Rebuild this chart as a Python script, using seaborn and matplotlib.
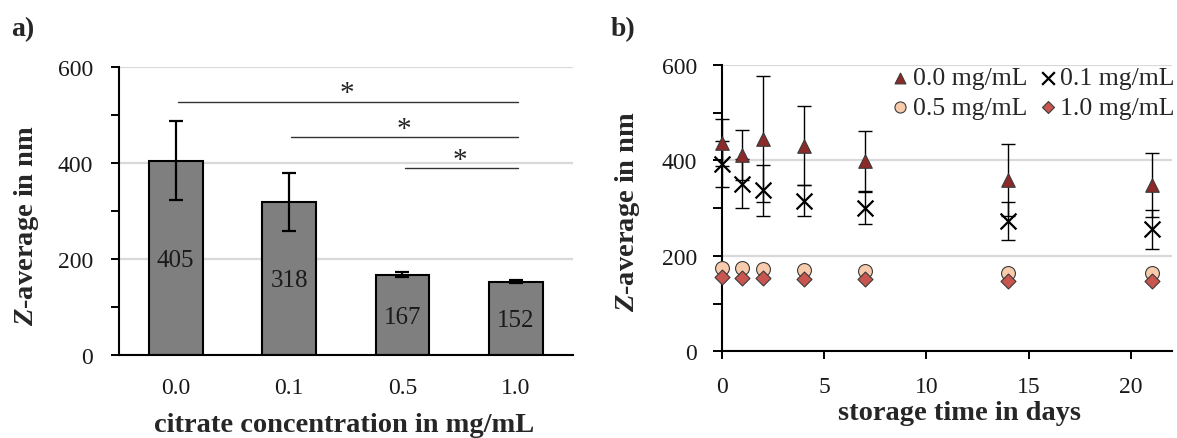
import matplotlib
matplotlib.use("Agg")
import matplotlib.pyplot as plt
import seaborn as sns
import pandas as pd

# ---- panel a: Z-average vs citrate concentration ----
conc_labels = ["0.0", "0.1", "0.5", "1.0"]
z_mean = [405, 318, 167, 152]
z_err = [82, 60, 5, 3]

# significance brackets: start bar, end bar, bracket height
sig_start = [0, 1, 2]
sig_end = [3, 3, 3]
sig_height = [528, 453, 389]

# ---- panel b: Z-average over storage time ----
days = [0, 1, 2, 4, 7, 14, 21]
z_00 = [437, 412, 445, 431, 398, 359, 348]
e_00 = [49, 52, 132, 83, 63, 75, 67]
z_01 = [392, 351, 337, 316, 300, 273, 256]
e_01 = [48, 51, 53, 33, 34, 40, 41]
z_05 = [175, 174, 173, 170, 169, 164, 164]
z_10 = [156, 154, 153, 151, 151, 148, 147]

sns.set_style("ticks")
plt.rcParams["font.family"] = ["Liberation Serif", "DejaVu Serif"]
plt.rcParams["mathtext.fontset"] = "custom"
plt.rcParams["mathtext.it"] = "Liberation Serif:italic:bold"
plt.rcParams["mathtext.rm"] = "Liberation Serif:bold"

TICK_FS = 17
LABEL_FS = 20.5
LEGEND_FS = 18.5
EDGE = "#3a3a3a"
GRID = "#d9d9d9"
W, H = 1177, 439

fig = plt.figure(figsize=(W / 100, H / 100), dpi=100)
ax_a = fig.add_axes([119 / W, 1 - 355.7 / H, (572.5 - 119) / W, (355.7 - 68) / H])
ax_b = fig.add_axes([721.7 / W, 1 - 352.3 / H, (1172 - 721.7) / W, (352.3 - 66) / H])


def style_axis(ax, tick_len, pad):
    for s in ("top", "right"):
        ax.spines[s].set_visible(False)
    for s in ("left", "bottom"):
        ax.spines[s].set_linewidth(1.5)
        ax.spines[s].set_color("black")
    ax.set_ylim(0, 600)
    ax.set_yticks([0, 200, 400, 600])
    ax.set_yticks([100, 300, 500], minor=True)
    ax.yaxis.grid(True, which="major", color=GRID, linewidth=1.6, zorder=0)
    ax.set_axisbelow(True)
    ax.tick_params(axis="y", which="both", direction="out", length=tick_len,
                   width=1.4, color="black", labelsize=TICK_FS, pad=pad,
                   labelcolor="#1a1a1a")


# ---------------- panel a ----------------
df_a = pd.DataFrame({"conc": conc_labels, "z": z_mean})
sns.barplot(data=df_a, x="conc", y="z", color="#7f7f7f", saturation=1,
            edgecolor="black", linewidth=1.5, width=0.475, errorbar=None,
            ax=ax_a, zorder=2)
ax_a.errorbar(range(len(z_mean)), z_mean, yerr=z_err, fmt="none",
              ecolor="black", elinewidth=1.6, capsize=4.7, capthick=1.6,
              zorder=3)
for i, v in enumerate(z_mean):
    ax_a.text(i, v / 2 - 4, str(v), ha="center", va="center",
              fontsize=18, color="#1a1a1a", zorder=4)
for s0, s1, h in zip(sig_start, sig_end, sig_height):
    ax_a.plot([s0 + 0.02, s1 + 0.02], [h, h], color="#333333",
              linewidth=1.0, zorder=3)
    ax_a.text((s0 + s1) / 2 + 0.01, h + 3, "*", ha="center", va="baseline",
              fontsize=21, color="#222222")
style_axis(ax_a, tick_len=5.8, pad=12.7)
ax_a.set_xlim(-0.5, 3.5)
ax_a.tick_params(axis="x", length=0, labelsize=TICK_FS, pad=16,
                 labelcolor="#1a1a1a")
ax_a.set_xlabel("citrate concentration in mg/mL", fontsize=LABEL_FS,
                fontweight="bold")
ax_a.set_ylabel(r"$Z$-average in nm", fontsize=LABEL_FS, fontweight="bold")
ax_a.xaxis.set_label_coords((344 - 119) / (572.5 - 119), -(432 - 355.7) / 287.7)
ax_a.xaxis.label.set_verticalalignment("baseline")
ax_a.yaxis.set_label_coords(-(119 - 26) / (572.5 - 119), (355.7 - 225) / 287.7)
ax_a.yaxis.label.set_verticalalignment("center")

# ---------------- panel b ----------------
ax_b.errorbar(days, z_00, yerr=e_00, fmt="none", ecolor="black",
              elinewidth=1.0, capsize=4.7, capthick=1.0, zorder=2,
              clip_on=False)
ax_b.errorbar(days, z_01, yerr=e_01, fmt="none", ecolor="black",
              elinewidth=1.0, capsize=4.7, capthick=1.0, zorder=2,
              clip_on=False)
sns.scatterplot(x=days, y=z_00, marker="^", s=95, color="#8c2a2a",
                edgecolor=EDGE, linewidth=0.8, label="0.0 mg/mL",
                ax=ax_b, zorder=4, clip_on=False)
sns.scatterplot(x=days, y=z_01, marker="x", s=130, color="black",
                linewidth=1.6, label="0.1 mg/mL", ax=ax_b, zorder=4,
                clip_on=False)
sns.scatterplot(x=days, y=z_05, marker="o", s=100, color="#f8cbad",
                edgecolor=EDGE, linewidth=0.8, label="0.5 mg/mL",
                ax=ax_b, zorder=4, clip_on=False)
sns.scatterplot(x=days, y=z_10, marker="D", s=58, color="#c8554f",
                edgecolor=EDGE, linewidth=0.8, label="1.0 mg/mL",
                ax=ax_b, zorder=5, clip_on=False)
style_axis(ax_b, tick_len=6.5, pad=11.4)
ax_b.set_xlim(0, 22)
ax_b.set_xticks([0, 5, 10, 15, 20])
ax_b.tick_params(axis="x", direction="out", length=5.8, width=1.4,
                 color="black", labelsize=TICK_FS, pad=12,
                 labelcolor="#1a1a1a")
ax_b.set_xlabel("storage time in days", fontsize=LABEL_FS, fontweight="bold")
ax_b.set_ylabel(r"$Z$-average in nm", fontsize=LABEL_FS, fontweight="bold")
ax_b.xaxis.set_label_coords((959 - 721.7) / (1172 - 721.7), -(420 - 352.3) / 286.3)
ax_b.xaxis.label.set_verticalalignment("baseline")
ax_b.yaxis.set_label_coords(-(721.7 - 628) / (1172 - 721.7), (352.3 - 211) / 286.3)
ax_b.yaxis.label.set_verticalalignment("center")

handles, labels = ax_b.get_legend_handles_labels()
order = [0, 2, 1, 3]
ax_b.legend([handles[i] for i in order], [labels[i] for i in order],
            ncol=2, frameon=False, fontsize=LEGEND_FS,
            loc="upper right", bbox_to_anchor=(1175 / W, 1 - 67.5 / H),
            bbox_transform=fig.transFigure, handletextpad=0.2,
            columnspacing=0.5, labelspacing=0.25, borderaxespad=0,
            borderpad=0, handlelength=0.6, markerscale=0.8)

# panel letters
fig.text(11 / W, 1 - 30 / H, "a)", fontsize=20, fontweight="bold",
         va="center", ha="left")
fig.text(611 / W, 1 - 30 / H, "b)", fontsize=20, fontweight="bold",
         va="center", ha="left")

fig.savefig("out.png", dpi=100)
